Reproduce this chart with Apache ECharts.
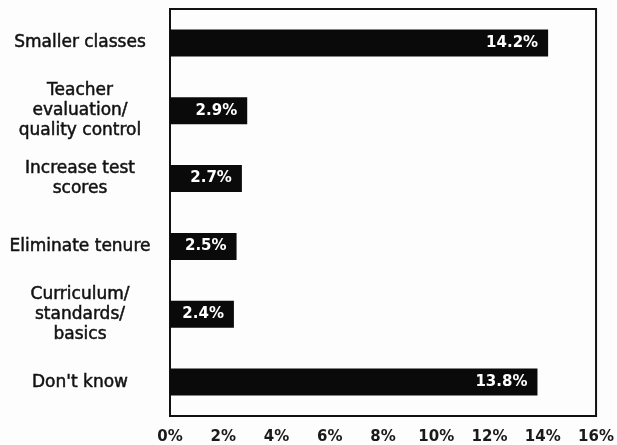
<!DOCTYPE html>
<html>
<head>
<meta charset="utf-8">
<script src="https://cdn.jsdelivr.net/npm/echarts@6/dist/echarts.min.js"></script>
<style>
  html, body { margin: 0; padding: 0; background: #fdfdfd; }
  #chart { width: 617px; height: 445px; }
</style>
</head>
<body>
<div id="chart"></div>
<script>
// Survey responses: share of respondents naming each item
const categories = [
  'Smaller classes',
  'Teacher\nevaluation/\nquality control',
  'Increase test\nscores',
  'Eliminate tenure',
  'Curriculum/\nstandards/\nbasics',
  "Don't know"
];
const shares = [14.2, 2.9, 2.7, 2.5, 2.4, 13.8];
const axisMin = 0;
const axisMax = 16;
const axisStep = 2;

const chart = echarts.init(document.getElementById('chart'), null, { renderer: 'canvas' });

chart.setOption({
  backgroundColor: '#fdfdfd',
  animation: false,
  grid: {
    left: 170,
    right: 19,
    top: 9,
    bottom: 29,
    show: true,
    borderColor: '#111',
    borderWidth: 2,
    backgroundColor: 'transparent'
  },
  xAxis: {
    type: 'value',
    min: axisMin,
    max: axisMax,
    interval: axisStep,
    axisLine: { show: true, lineStyle: { color: '#111', width: 2 } },
    axisTick: { show: false },
    splitLine: { show: false },
    axisLabel: {
      formatter: '{value}%',
      margin: 14,
      color: '#1a1a1a',
      fontFamily: 'DejaVu Sans',
      fontWeight: 'bold',
      fontSize: 15
    }
  },
  yAxis: {
    type: 'category',
    data: categories,
    inverse: true,
    axisLine: { show: true, lineStyle: { color: '#111', width: 2 } },
    axisTick: { show: false },
    axisLabel: {
      align: 'center',
      margin: 90,
      color: '#111',
      textBorderColor: '#111',
      textBorderWidth: 0.5,
      fontFamily: 'DejaVu Sans',
      fontSize: 17,
      lineHeight: 20
    }
  },
  series: [{
    type: 'bar',
    data: shares,
    barWidth: 27,
    itemStyle: { color: '#0a0a0a' },
    label: {
      show: true,
      position: 'insideRight',
      distance: 10,
      color: '#ffffff',
      fontFamily: 'DejaVu Sans',
      fontWeight: 'bold',
      fontSize: 15,
      formatter: p => p.value.toFixed(1) + '%'
    }
  }]
});
</script>
</body>
</html>
